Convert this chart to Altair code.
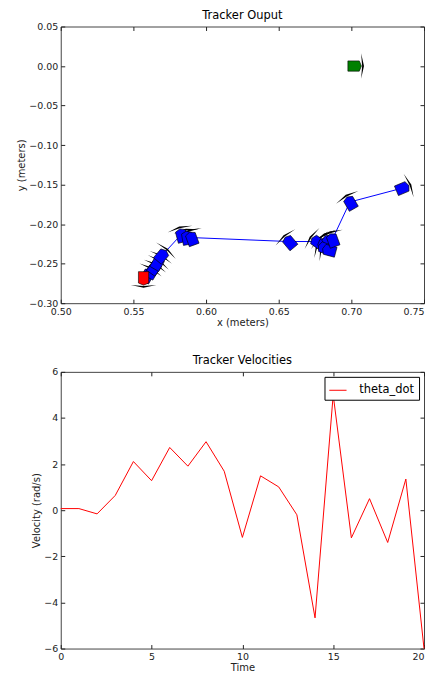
import altair as alt
import pandas as pd

# ---- Tracker output (poses) ----
pose_x = [0.560, 0.563, 0.565, 0.567, 0.570, 0.583, 0.587, 0.590, 0.657,
          0.676, 0.681, 0.684, 0.681, 0.684, 0.687, 0.699, 0.736]
pose_y = [-0.264, -0.259, -0.254, -0.248, -0.239, -0.213, -0.216, -0.217, -0.222,
          -0.222, -0.225, -0.221, -0.230, -0.233, -0.219, -0.172, -0.154]
pose_angle = [300, 300, 305, 300, 310, 255, 260, 250, 230,
              215, 225, 240, 200, 195, 250, 240, 337]

end_pose = {"x": 0.557, "y": -0.270, "angle": 90}
start_pose = {"x": 0.703, "y": 0.0, "angle": 0}

# ---- Tracker velocities ----
time = list(range(21))
theta_dot = [0.07, 0.07, -0.16, 0.64, 2.11, 1.28, 2.72, 1.91, 2.97, 1.69, -1.18,
             1.49, 1.01, -0.2, -4.67, 5.0, -1.2, 0.5, -1.4, 1.35, -6.0]

x_ticks = [0.50, 0.55, 0.60, 0.65, 0.70, 0.75]
y_ticks = [0.05, 0.00, -0.05, -0.10, -0.15, -0.20, -0.25, -0.30]
t_ticks = [0, 5, 10, 15, 20]
v_ticks = [-6, -4, -2, 0, 2, 4, 6]

BODY = "M-0.55,-0.36L0.25,-0.36L0.4,0L0.25,0.36L-0.55,0.36Z"
HEAD = "M0.38,-0.9L0.58,0L0.38,0.9L0.45,0Z"
SIZE = 820
FONT = "DejaVu Sans"
TICK = 4
H = 278
W = 365

path_df = pd.DataFrame({"x": pose_x, "y": pose_y, "angle": pose_angle,
                        "order": list(range(len(pose_x))), "kind": "path"})
marker_df = pd.concat([
    path_df,
    pd.DataFrame([{**end_pose, "order": 100, "kind": "end"}]),
    pd.DataFrame([{**start_pose, "order": 101, "kind": "start"}]),
], ignore_index=True)

xs = alt.Scale(domain=[0.5, 0.75], nice=False, zero=False)
ys = alt.Scale(domain=[-0.3, 0.05], nice=False, zero=False)


def in_axis(orient, values, fmt=None, title=None, labels=True, last=None):
    kw = dict(orient=orient, values=values, offset=-TICK, tickSize=TICK,
              domain=False, grid=False, tickColor="#222", labels=labels,
              labelPadding=3, labelFontSize=9.5, labelFont=FONT, labelColor="#222",
              titleFont=FONT, titleFontSize=10, titleFontWeight="normal",
              titleColor="#222", titlePadding=2)
    if fmt:
        kw["format"] = fmt
    if last is not None:
        kw["labelAlign"] = {"condition": {"test": f"datum.value >= {last}",
                                          "value": "right"},
                            "value": "center"}
    kw["title"] = title if title else None
    return alt.Axis(**kw)


base = alt.Chart(marker_df)

line = alt.Chart(path_df).mark_line(color="#0000ff", strokeWidth=1).encode(
    x=alt.X("x:Q", scale=xs,
            axis=in_axis("bottom", x_ticks, ".2f", "x (meters)", last=0.749)),
    y=alt.Y("y:Q", scale=ys, axis=in_axis("left", y_ticks, ".2f", "y (meters)")),
    order="order:Q",
)

heads = base.mark_point(shape=HEAD, size=SIZE, filled=True, color="black",
                        opacity=1).encode(
    x=alt.X("x:Q", scale=xs, axis=in_axis("top", x_ticks, labels=False)),
    y=alt.Y("y:Q", scale=ys, axis=in_axis("right", y_ticks, labels=False)),
    angle=alt.Angle("angle:Q", scale=None),
)

bodies = base.mark_point(shape=BODY, size=SIZE, filled=True, stroke="black",
                         strokeWidth=0.6, opacity=1).encode(
    x=alt.X("x:Q", scale=xs, axis=None),
    y=alt.Y("y:Q", scale=ys, axis=None),
    angle=alt.Angle("angle:Q", scale=None),
    fill=alt.Fill("kind:N", scale=alt.Scale(domain=["path", "end", "start"],
                                            range=["#0000ff", "#ff0000", "#008000"]),
                  legend=None),
    order="order:Q",
)

top = alt.layer(line, heads, bodies).resolve_axis(x="independent", y="independent").properties(
    width=W, height=H,
    title=alt.TitleParams("Tracker Ouput", font=FONT, fontSize=11.5,
                          fontWeight="normal", color="black", offset=0),
)

vel_df = pd.DataFrame({"t": time, "v": theta_dot, "series": "theta_dot"})
ts = alt.Scale(domain=[0, 20], nice=False, zero=False)
vs = alt.Scale(domain=[-6, 6], nice=False, zero=False)

vline = alt.Chart(vel_df).mark_line(strokeWidth=1).encode(
    x=alt.X("t:Q", scale=ts, axis=in_axis("bottom", t_ticks, "d", "Time", last=19.9)),
    y=alt.Y("v:Q", scale=vs, axis=in_axis("left", v_ticks, "d", "Velocity (rad/s)")),
    color=alt.Color("series:N", scale=alt.Scale(range=["#ff0000"]),
                    legend=alt.Legend(orient="top-right", title=None, offset=5,
                                      strokeColor="black", fillColor="white",
                                      padding=4, labelFont=FONT, labelFontSize=11.5,
                                      labelColor="black", symbolType="stroke",
                                      symbolSize=300, symbolStrokeWidth=1,
                                      labelOffset=12)),
)
vticks = alt.Chart(vel_df).mark_line(opacity=0).encode(
    x=alt.X("t:Q", scale=ts, axis=in_axis("top", t_ticks, labels=False)),
    y=alt.Y("v:Q", scale=vs, axis=in_axis("right", v_ticks, labels=False)),
)

bottom = alt.layer(vline, vticks).resolve_axis(x="independent", y="independent").properties(
    width=W, height=H,
    title=alt.TitleParams("Tracker Velocities", font=FONT, fontSize=11.5,
                          fontWeight="normal", color="black", offset=0),
)

chart = alt.vconcat(top, bottom, spacing=27).resolve_legend(
    color="independent", fill="independent"
).configure_view(
    stroke="#444", strokeWidth=1
).properties(padding={"left": 8, "top": 0, "right": 0, "bottom": 0})

chart.save("out.html", embed_options={"renderer": "svg", "actions": False})
